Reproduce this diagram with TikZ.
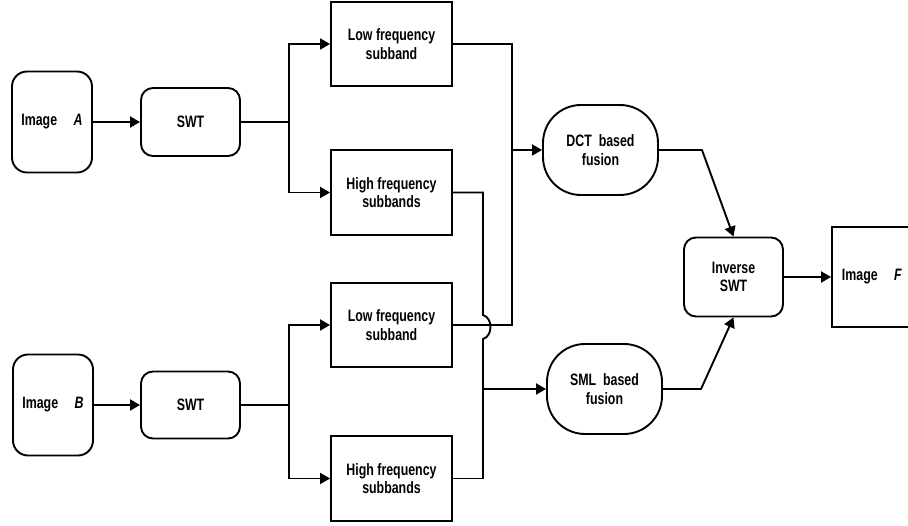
\documentclass[tikz,border=0pt]{standalone}
\usepackage{fontspec}
\setmainfont{Liberation Sans}[FakeStretch=0.75]
\usetikzlibrary{arrows.meta}
\begin{document}
\begin{tikzpicture}[x=1pt,y=-1pt,
  line width=1.9pt, line join=miter,
  every node/.style={font=\fontsize{16.5}{18.5}\selectfont\bfseries, align=center, inner sep=0pt},
  rbox/.style={draw, rounded corners=#1},
  sbox/.style={draw, sharp corners},
  fuse/.style={draw, rounded corners=38pt, minimum width=115pt, minimum height=90pt},
  arr/.style={-{Triangle[length=10pt,width=11pt]}}
]
\useasboundingbox (0,0) rectangle (908,526);
\clip (0,0) rectangle (908,526);

% input images and their stationary wavelet transforms
\node[rbox=15pt, minimum width=80pt, minimum height=101pt] (imgA) at (52,122) {Image\quad\textit{A}};
\node[rbox=12pt, minimum width=99pt, minimum height=68pt] (swtA) at (190.5,122) {SWT};
\node[rbox=15pt, minimum width=80pt, minimum height=101pt] (imgB) at (53,405) {Image\quad\textit{B}};
\node[rbox=12pt, minimum width=99pt, minimum height=67pt] (swtB) at (190.5,405) {SWT};

% subbands
\node[sbox, minimum width=121pt, minimum height=84pt] (lowA) at (391.5,44) {Low frequency\\subband};
\node[sbox, minimum width=121pt, minimum height=85pt] (highA) at (391.5,192.5) {High frequency\\subbands};
\node[sbox, minimum width=121pt, minimum height=84pt] (lowB) at (391.5,325) {Low frequency\\subband};
\node[sbox, minimum width=121pt, minimum height=85pt] (highB) at (391.5,478.5) {High frequency\\subbands};

% fusion rules
\node[fuse] (dct) at (600.5,150) {DCT\ \ based\\fusion};
\node[fuse] (sml) at (604.5,389) {SML\ \ based\\fusion};

% reconstruction and output
\node[rbox=12pt, minimum width=99pt, minimum height=79pt] (inv) at (733.5,277) {Inverse\\SWT};
\node[sbox, minimum width=80pt, minimum height=100pt] (imgF) at (872,277) {Image\quad\textit{F}};

% junction points
\coordinate (splitA) at (289,122);
\coordinate (splitB) at (289,405);
\coordinate (mergeL) at (512,150);
\coordinate (mergeH) at (483,389);
\coordinate (bendD) at (702,150);
\coordinate (bendS) at (701,389);
\coordinate (hopTop) at (483,315);
\coordinate (hopBot) at (483,339);

% image -> SWT
\draw[arr] (imgA) -- (swtA);
\draw[arr] (imgB) -- (swtB);

% SWT -> subbands
\draw (swtA) -- (splitA);
\draw[arr] (splitA) |- (lowA.west);
\draw[arr] (splitA) |- (highA.west);
\draw (swtB) -- (splitB);
\draw[arr] (splitB) |- (lowB.west);
\draw[arr] (splitB) |- (highB.west);

% low frequency subbands -> DCT based fusion
\draw (lowA.east) -| (mergeL);
\draw (lowB.east) -| (mergeL);
\draw[arr] (mergeL) -- (dct.west);

% high frequency subbands -> SML based fusion (hopping over the low band line)
\draw (highA.east) -| (hopTop) .. controls (493,318) and (493,336) .. (hopBot) -- (mergeH);
\draw (highB.east) -| (mergeH);
\draw[arr] (mergeH) -- (sml.west);

% fusion results -> inverse SWT -> fused image
\draw[arr] (dct.east) -- (bendD) -- (inv.north);
\draw[arr] (sml.east) -- (bendS) -- (inv.south);
\draw[arr] (inv) -- (imgF);
\end{tikzpicture}
\end{document}
